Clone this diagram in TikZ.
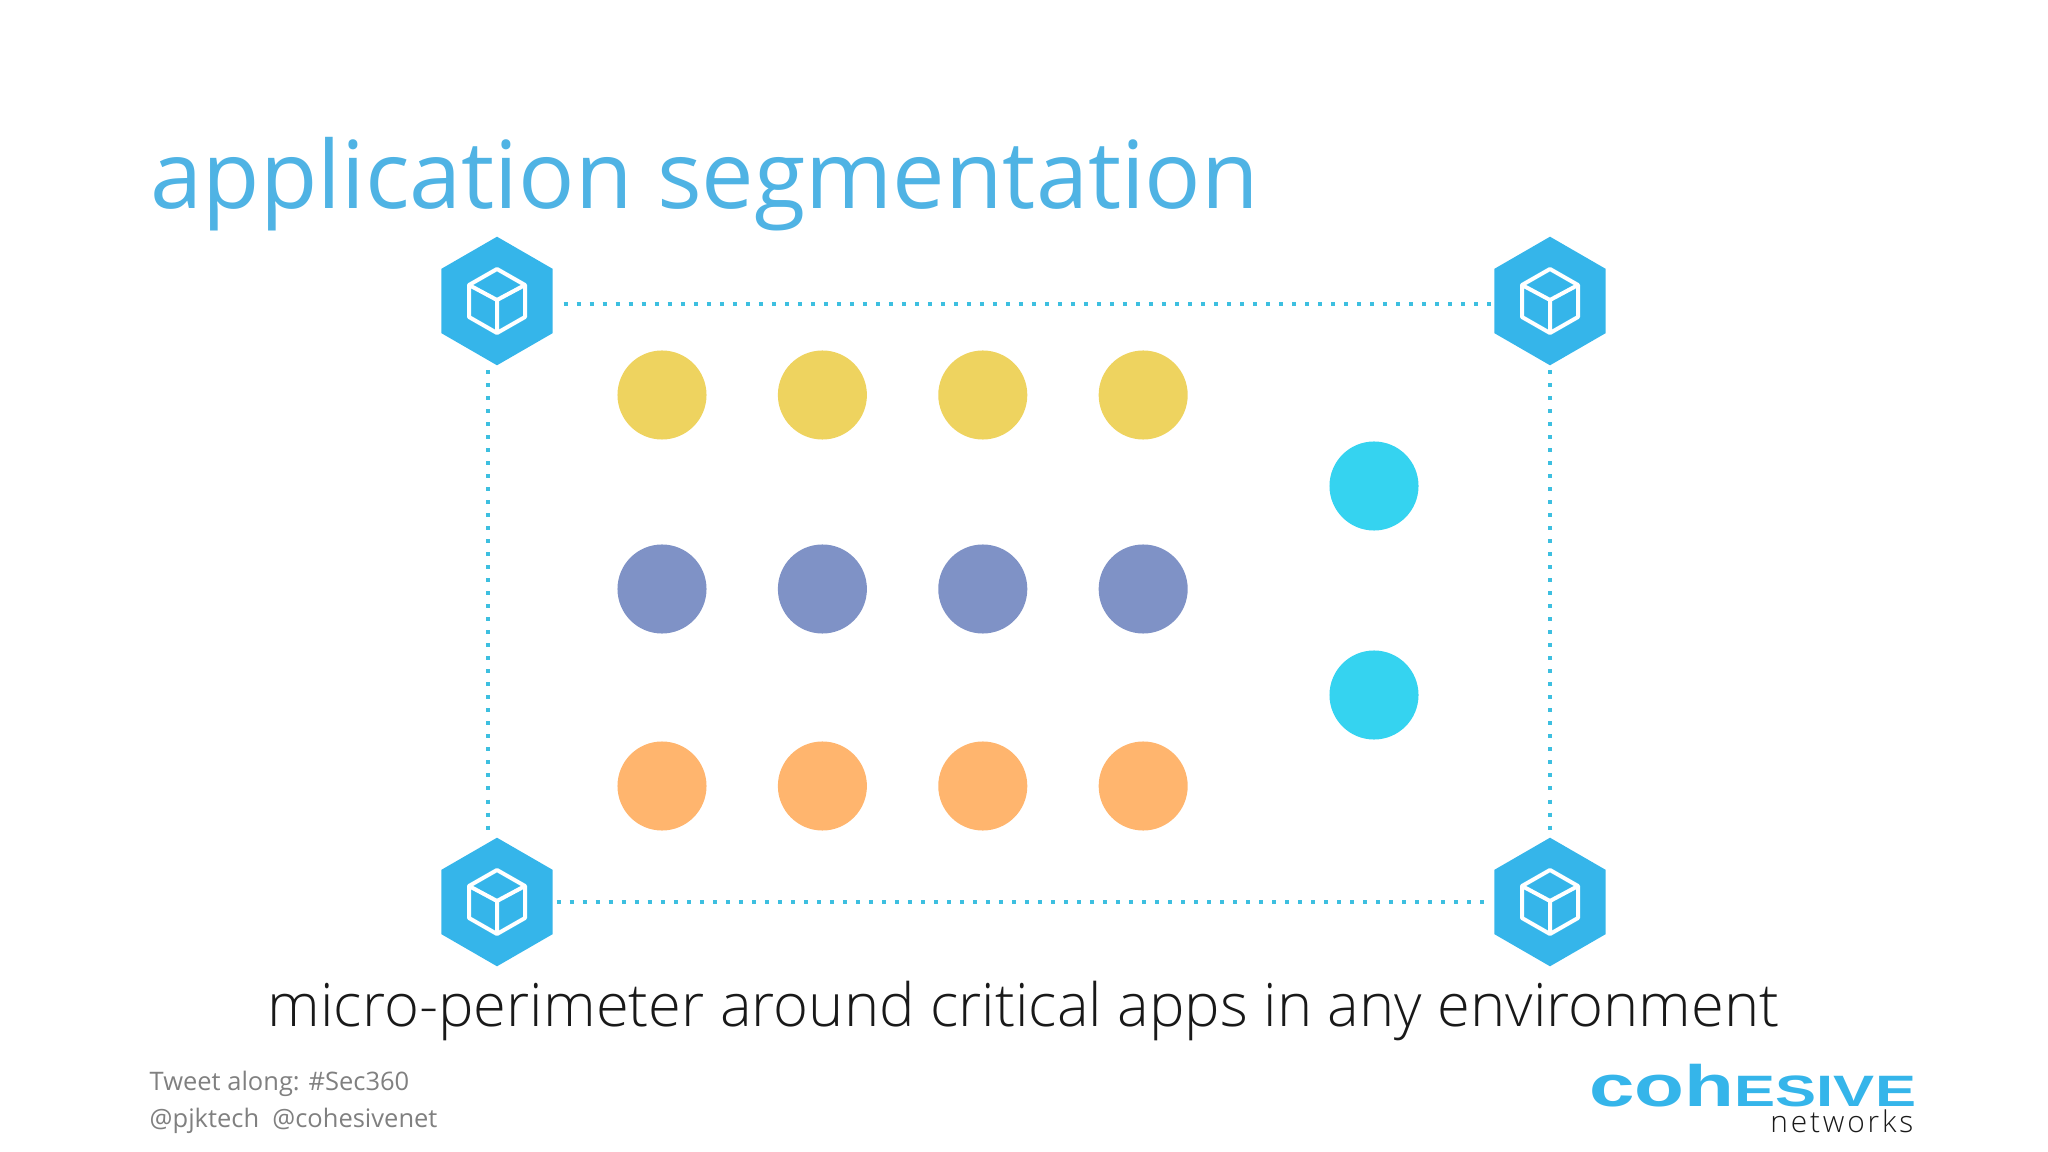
\documentclass[tikz,border=0pt]{standalone}
\usepackage{fontspec}
\setmainfont{Open Sans}
\newfontfamily\fontLight{Open Sans Light}
\newfontfamily\fontSpaced{Open Sans Light}[LetterSpace=9.4]
\newfontfamily\fontLogo{Liberation Sans}[BoldFont={Liberation Sans Bold}]
\usepackage{xcolor}
\definecolor{colorTitle}{HTML}{4FB3E4}
\definecolor{colorHex}{HTML}{35B5EA}
\definecolor{colorDots}{HTML}{3DBFE0}
\definecolor{colorYellow}{HTML}{EED35F}
\definecolor{colorPurple}{HTML}{7F92C6}
\definecolor{colorOrange}{HTML}{FFB56E}
\definecolor{colorCyan}{HTML}{35D3F0}
\definecolor{colorFoot}{HTML}{808080}
\usetikzlibrary{positioning, shapes.geometric}
\tikzset{
  hexa/.style={regular polygon, regular polygon sides=6, shape border rotate=30, fill=colorHex, minimum size=1.285cm, inner sep=0pt, outer sep=0pt},
  dotlink/.style={colorDots, line width=.04cm, dash pattern=on .04cm off .09cm},
  app/.style={circle, minimum size=.89cm, inner sep=0pt, outer sep=0pt},
  cubeicon/.pic={
    \draw[white, line width=.04cm, line join=round] (0,-32) -- (28,-16) -- (28,16) -- (0,32) -- (-28,16) -- (-28,-16) -- cycle
      (-28,-16) -- (0,-1) -- (28,-16) (0,-1) -- (0,32);
  }
}
\begin{document}
\begin{tikzpicture}[x=.01cm, y=-.01cm, node distance=1.603cm]
\useasboundingbox (0,0) rectangle (2048,1152);
\node[text=colorTitle, anchor=base west, inner sep=0pt, font=\fontsize{26.65}{30}\selectfont] (title) at (150,209) {application segmentation};
\node[hexa] (hexTL) at (497,301) {};
\node[hexa] (hexTR) at (1550,301) {};
\node[hexa] (hexBL) at (497,902) {};
\node[hexa] (hexBR) at (1550,902) {};
\pic at (hexTL) {cubeicon};
\pic at (hexTR) {cubeicon};
\pic at (hexBL) {cubeicon};
\pic at (hexBR) {cubeicon};
\draw[dotlink] ([shift={(11,3)}]hexTL.east) -- ([shift={(-3,3)}]hexTR.west);
\draw[dotlink] ([shift={(4,0)}]hexBL.east) -- ([shift={(-3,0)}]hexBR.west);
\draw[dotlink] ([shift={(-9,5)}]hexTL.south) -- ([shift={(-9,-6)}]hexBL.north);
\draw[dotlink] ([shift={(0,5)}]hexTR.south) -- ([shift={(0,-3)}]hexBR.north);
\node[app, fill=colorYellow] (y1) at (662,395) {};
\node[app, fill=colorYellow, right of=y1] (y2) {};
\node[app, fill=colorYellow, right of=y2] (y3) {};
\node[app, fill=colorYellow, right of=y3] (y4) {};
\node[app, fill=colorPurple] (p1) at (662,589) {};
\node[app, fill=colorPurple, right of=p1] (p2) {};
\node[app, fill=colorPurple, right of=p2] (p3) {};
\node[app, fill=colorPurple, right of=p3] (p4) {};
\node[app, fill=colorOrange] (o1) at (662,786) {};
\node[app, fill=colorOrange, right of=o1] (o2) {};
\node[app, fill=colorOrange, right of=o2] (o3) {};
\node[app, fill=colorOrange, right of=o3] (o4) {};
\node[app, fill=colorCyan] (c1) at (1374,486) {};
\node[app, fill=colorCyan] (c2) at (1374,695) {};
\node[anchor=base, inner sep=0pt, text=black!90, font=\fontLight\fontsize{16.97}{20}\selectfont] (caption) at (1023.5,1026) {micro-perimeter around critical apps in any environment};
\node[anchor=base west, inner sep=0pt, text=colorFoot, font=\fontsize{7.25}{9}\selectfont] (tweet) at (149,1090) {Tweet along: \#Sec360};
\node[anchor=base west, inner sep=0pt, text=colorFoot, font=\fontsize{7.25}{9}\selectfont] (handles) at (149,1127) {@pjktech\ \ @cohesivenet};
\node[anchor=base east, inner sep=0pt, text=colorHex, font=\fontLogo\bfseries\fontsize{16.6}{18}\selectfont, xscale=1.4] (logo) at (1917,1106) {coh{\fontsize{12.5}{13}\selectfont ESIVE}};
\node[anchor=base east, inner sep=0pt, text=black!90, font=\fontSpaced\fontsize{8.5}{10}\selectfont] (networks) at (1914,1132) {networks};
\end{tikzpicture}
\end{document}
